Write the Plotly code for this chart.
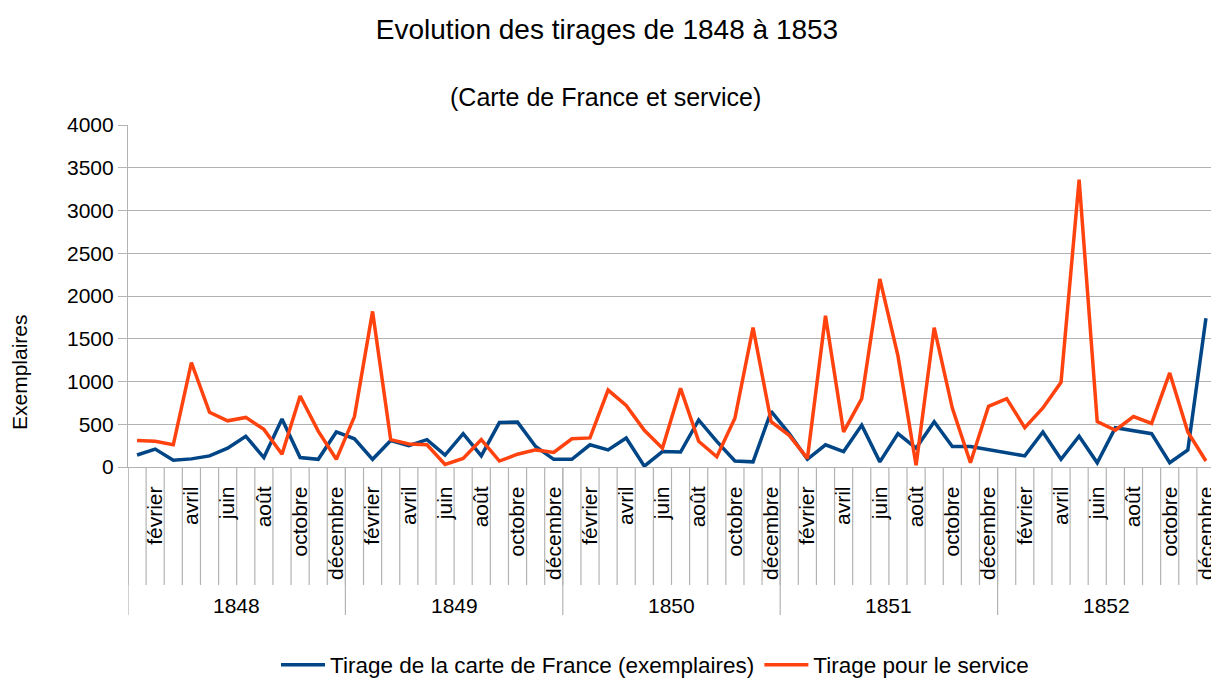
import plotly.graph_objects as go

# ---------------- data ----------------
years = ["1848", "1849", "1850", "1851", "1852"]
months = ["janvier", "février", "mars", "avril", "mai", "juin",
          "juillet", "août", "septembre", "octobre", "novembre", "décembre"]
shown_months = ["février", "avril", "juin", "août", "octobre", "décembre"]

tirage_carte = [
    140, 210, 80, 95, 130, 220, 360, 110, 560, 110, 90, 410,
    330, 90, 310, 250, 320, 140, 390, 130, 520, 525, 240, 90,
    90, 260, 200, 340, 10, 180, 175, 550, 300, 70, 60, 650,
    390, 90, 260, 180, 490, 60, 390, 220, 530, 240, 240, 200,
    160, 130, 410, 90, 360, 50, 460, 420, 390, 50, 200, 1740,
]
tirage_service = [
    310, 300, 260, 1220, 640, 540, 580, 440, 150, 830, 420, 90,
    590, 1820, 320, 270, 260, 30, 100, 320, 70, 150, 200, 170,
    330, 340, 900, 720, 430, 220, 920, 300, 120, 570, 1630, 530,
    370, 100, 1770, 410, 800, 2200, 1300, 20, 1630, 690, 50, 710,
    800, 460, 690, 990, 3360, 530, 430, 590, 510, 1100, 410, 70,
]

series_names = ["Tirage de la carte de France (exemplaires)", "Tirage pour le service"]
title_text = "Evolution des tirages de 1848 à 1853"
subtitle_text = "(Carte de France et service)"
y_title = "Exemplaires"

# ---------------- style ----------------
BLUE = "#004586"
ORANGE = "#ff420e"
GRID = "#b3b3b3"
FONT = "Liberation Sans, Arial, sans-serif"

# the page body has an 8px margin, so the figure is sized to fill the rest
OFF = 8
W, H = 1219 - OFF, 678 - OFF
ML, MR, MT, MB = 128 - OFF, 4, 125 - OFF, 211
plot_w = W - ML - MR
plot_h = H - MT - MB

n = len(tirage_carte)
x = list(range(n))

fig = go.Figure()
fig.add_trace(go.Scatter(x=x, y=tirage_carte, mode="lines", name=series_names[0],
                         line=dict(color=BLUE, width=3.5)))
fig.add_trace(go.Scatter(x=x, y=tirage_service, mode="lines", name=series_names[1],
                         line=dict(color=ORANGE, width=3.5)))

tickvals = [i for i in range(n) if months[i % 12] in shown_months]
ticktext = [months[i % 12] for i in tickvals]


def below(px):
    """paper-y of a point px pixels below the x axis"""
    return -px / plot_h


shapes = []
for b in range(n + 1):
    shapes.append(dict(type="line", xref="x", yref="paper",
                       x0=b - 0.5, x1=b - 0.5, y0=0, y1=below(118),
                       line=dict(color=GRID, width=1.2), layer="below"))
for k in range(len(years) + 1):
    shapes.append(dict(type="line", xref="x", yref="paper",
                       x0=12 * k - 0.5, x1=12 * k - 0.5, y0=0, y1=below(148),
                       line=dict(color=GRID, width=1.2), layer="below"))

annotations = []
for k, yr in enumerate(years):
    annotations.append(dict(text=yr, xref="x", yref="paper", x=12 * k + 5.5,
                            y=below(138), showarrow=False,
                            xanchor="center", yanchor="middle",
                            font=dict(family=FONT, size=21, color="#000")))
annotations.append(dict(text=subtitle_text, xref="paper", yref="paper",
                        x=(605 - OFF - ML) / plot_w, y=1 + (125 - 97) / plot_h,
                        showarrow=False, xanchor="center", yanchor="middle",
                        font=dict(family=FONT, size=25, color="#000")))
annotations.append(dict(text=y_title, xref="paper", yref="paper",
                        x=(19 - OFF - ML) / plot_w, y=(467 - 372) / plot_h,
                        showarrow=False, xanchor="center", yanchor="middle",
                        textangle=-90,
                        font=dict(family=FONT, size=21, color="#000")))

fig.update_layout(
    width=W, height=H,
    margin=dict(l=ML, r=MR, t=MT, b=MB, autoexpand=False),
    paper_bgcolor="white", plot_bgcolor="white",
    title=dict(text=title_text, x=(607 - OFF) / W, xref="container", xanchor="center",
               y=1 - (29 - OFF) / H, yref="container", yanchor="middle",
               font=dict(family=FONT, size=28, color="#000")),
    xaxis=dict(range=[-0.5, n - 0.5], tickmode="array", tickvals=tickvals,
               ticktext=ticktext, tickangle=-90, ticks="", showgrid=False,
               showline=True, linecolor=GRID, linewidth=1.2, zeroline=False,
               ticklabelstandoff=10,
               tickfont=dict(family=FONT, size=21, color="#000")),
    yaxis=dict(range=[0, 4000], dtick=500, tick0=0, showgrid=True, gridcolor=GRID,
               gridwidth=1.2, showline=True, linecolor=GRID, linewidth=1.2,
               ticks="outside", ticklen=9, tickcolor=GRID, tickwidth=1.2,
               zeroline=False,
               tickfont=dict(family=FONT, size=21, color="#000")),
    showlegend=True,
    legend=dict(orientation="h", x=(655 - OFF - ML) / plot_w, xanchor="center",
                y=below(665 - 467), yanchor="middle",
                font=dict(family=FONT, size=22.5, color="#000"),
                bgcolor="rgba(0,0,0,0)", itemwidth=44),
    shapes=shapes,
    annotations=annotations,
)

fig.write_html("out.html")
